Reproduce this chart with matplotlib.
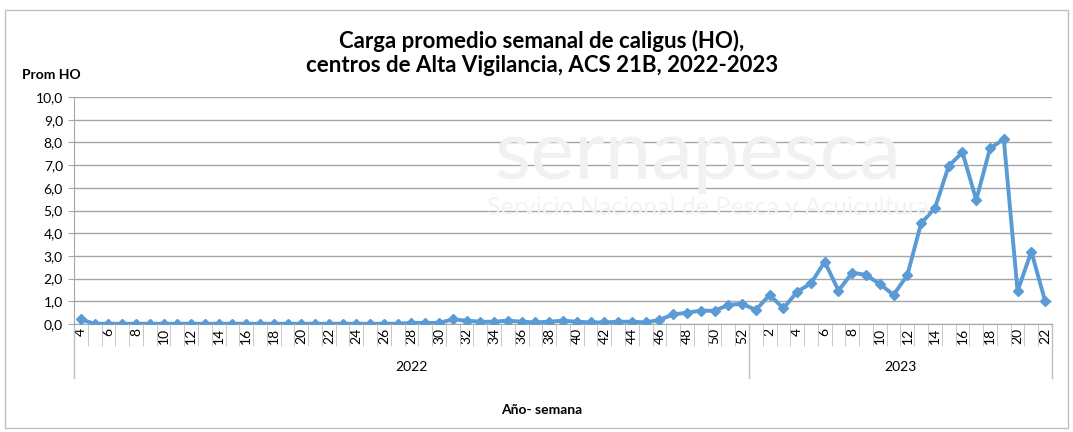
import matplotlib
matplotlib.use("Agg")
import matplotlib.pyplot as plt
import matplotlib.transforms as mtransforms
from matplotlib.patches import Rectangle

weeks_2022 = list(range(4, 53))
weeks_2023 = list(range(1, 23))

ho_2022 = [0.20, 0.01, 0.01, 0.01, 0.01, 0.01, 0.01, 0.01, 0.01, 0.01,
           0.01, 0.01, 0.01, 0.01, 0.01, 0.01, 0.01, 0.01, 0.01, 0.01,
           0.01, 0.01, 0.01, 0.01, 0.05, 0.05, 0.05, 0.20, 0.15, 0.10,
           0.10, 0.15, 0.10, 0.07, 0.10, 0.15, 0.10, 0.07, 0.07, 0.10,
           0.10, 0.07, 0.18, 0.42, 0.50, 0.59, 0.58, 0.84, 0.89]
ho_2023 = [0.62, 1.28, 0.69, 1.42, 1.79, 2.74, 1.47, 2.26, 2.16, 1.76,
           1.28, 2.16, 4.44, 5.10, 6.96, 7.56, 5.46, 7.74, 8.14, 1.45,
           3.19, 1.01]

week_labels = [str(w) for w in weeks_2022 + weeks_2023]
values = ho_2022 + ho_2023
years = ["2022", "2023"]

plt.rcParams["font.family"] = ["Lato", "DejaVu Sans"]

fig = plt.figure(figsize=(10.73, 4.32), dpi=100)
fig.patches.append(Rectangle((5 / 1073, 4 / 432), 1063 / 1073, 418 / 432,
                             transform=fig.transFigure, fill=False,
                             edgecolor="#bfbfbf", linewidth=1))
ax = fig.add_axes([74 / 1073, 108 / 432, 978 / 1073, 227 / 432])

# faint watermark
fig.text(0.65, 0.64, "sernapesca", fontsize=60, color="#f1f1f1",
         ha="center", va="center", zorder=0)
fig.text(0.66, 0.52, "Servicio Nacional de Pesca y Acuicultura", fontsize=18,
         color="#f3f3f3", ha="center", va="center", zorder=0)
ax.patch.set_alpha(0)

x = list(range(len(values)))
ax.plot(x, values, color="#5b9bd5", linewidth=2.8, marker="D",
        markersize=5, zorder=3)

ax.set_xlim(-0.5, len(values) - 0.5)
ax.set_ylim(0, 10)
ax.set_yticks([i for i in range(11)])
ax.set_yticklabels([f"{i},0" for i in range(11)], fontsize=10)
ax.yaxis.grid(True, color="#a6a6a6", linewidth=1)
ax.set_axisbelow(True)

ax.set_xticks(x[::2])
ax.set_xticklabels(week_labels[::2], rotation=90, fontsize=10)
ax.set_xticks([i - 0.5 for i in range(len(values) + 1)], minor=True)
ax.tick_params(axis="x", which="major", length=0, pad=3)
ax.tick_params(axis="x", which="minor", length=16, color="#bfbfbf")
ax.tick_params(axis="y", length=4, color="#a6a6a6", pad=4)

for s in ["top", "right"]:
    ax.spines[s].set_visible(False)
ax.spines["left"].set_color("#a6a6a6")
ax.spines["bottom"].set_color("#a6a6a6")

trans = mtransforms.blended_transform_factory(ax.transData, ax.transAxes)
split = len(weeks_2022) - 0.5
for xv in [-0.5, split, len(values) - 0.5]:
    ax.plot([xv, xv], [0, -0.238], transform=trans, color="#bfbfbf",
            linewidth=1, clip_on=False)
ax.text((-0.5 + split) / 2, -0.19, years[0], transform=trans,
        ha="center", va="center", fontsize=10)
ax.text((split + len(values) - 0.5) / 2, -0.19, years[1], transform=trans,
        ha="center", va="center", fontsize=10)

fig.text(0.505, 0.906, "Carga promedio semanal de caligus (HO),",
         ha="center", va="center", fontsize=16, fontweight="bold")
fig.text(0.505, 0.848, "centros de Alta Vigilancia, ACS 21B, 2022-2023",
         ha="center", va="center", fontsize=16, fontweight="bold")
fig.text(22 / 1073, 1 - 75 / 432, "Prom HO", ha="left", va="center",
         fontsize=10, fontweight="bold")
fig.text(0.505, 1 - 410 / 432, "Año- semana", ha="center", va="center",
         fontsize=10, fontweight="bold")

fig.savefig("out.png", dpi=100)
